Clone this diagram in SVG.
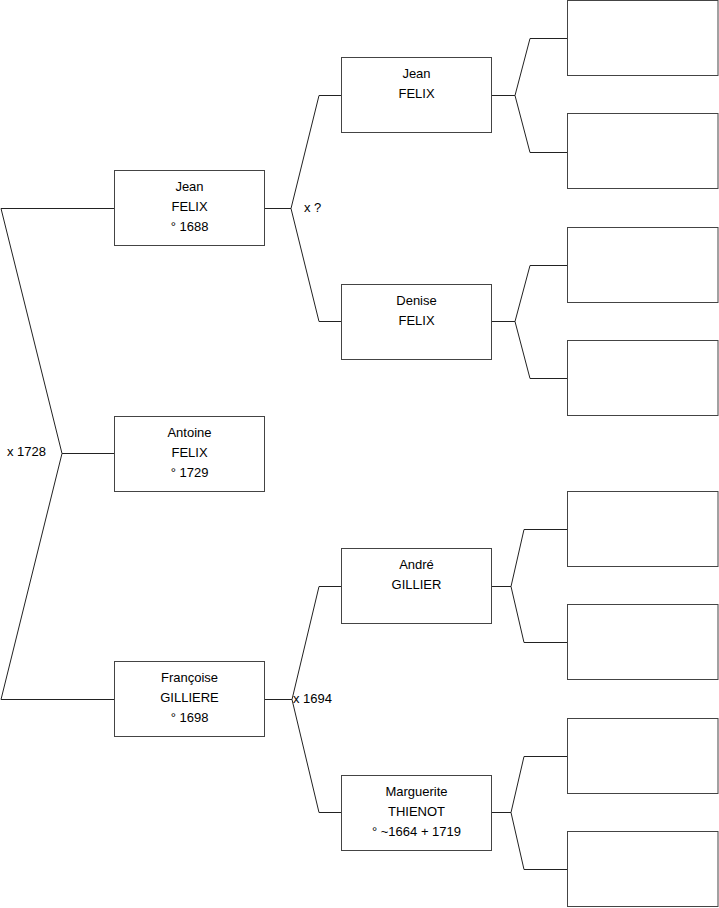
<svg xmlns="http://www.w3.org/2000/svg" width="719" height="908" viewBox="0 0 719 908">
<style>
.box{fill:#fff;stroke:#444;stroke-width:1}
.ln{fill:none;stroke:#222;stroke-width:1}
text{font-family:"Liberation Sans",Arial,sans-serif;font-size:13px;fill:#000}
.c{text-anchor:middle}
</style>
<g id="connectors">
<path class="ln" d="M114,208.5 H1 L62,453.5 L1,699.5 H114 M62,453.5 H114"/>
<path class="ln" d="M265,208.5 H291 L319,95.5 H341 M291,208.5 L319,321.5 H341"/>
<path class="ln" d="M265,699.5 H292 L319,586.5 H341 M292,699.5 L319,812.5 H341"/>
<path class="ln" d="M492,95.5 H515 L530,38.5 H567 M515,95.5 L530,152.5 H567"/>
<path class="ln" d="M492,321.5 H515 L530,265.5 H567 M515,321.5 L530,378.5 H567"/>
<path class="ln" d="M492,586.5 H511 L524,529.5 H567 M511,586.5 L524,642.5 H567"/>
<path class="ln" d="M492,812.5 H511 L524,756.5 H567 M511,812.5 L524,869.5 H567"/>
<text x="7" y="456">x 1728</text>
<text x="304" y="212">x ?</text>
<text x="293" y="703">x 1694</text>
</g>
<g id="jean1688"><rect class="box" x="114.5" y="170.5" width="150" height="75"/><text class="c" x="189.5" y="191">Jean</text><text class="c" x="189.5" y="211">FELIX</text><text class="c" x="189.5" y="231">° 1688</text></g>
<g id="antoine"><rect class="box" x="114.5" y="416.5" width="150" height="75"/><text class="c" x="189.5" y="437">Antoine</text><text class="c" x="189.5" y="457">FELIX</text><text class="c" x="189.5" y="477">° 1729</text></g>
<g id="francoise"><rect class="box" x="114.5" y="661.5" width="150" height="75"/><text class="c" x="189.5" y="682">Françoise</text><text class="c" x="189.5" y="702">GILLIERE</text><text class="c" x="189.5" y="722">° 1698</text></g>
<g id="jean2"><rect class="box" x="341.5" y="57.5" width="150" height="75"/><text class="c" x="416.5" y="78">Jean</text><text class="c" x="416.5" y="98">FELIX</text></g>
<g id="denise"><rect class="box" x="341.5" y="284.5" width="150" height="75"/><text class="c" x="416.5" y="305">Denise</text><text class="c" x="416.5" y="325">FELIX</text></g>
<g id="andre"><rect class="box" x="341.5" y="548.5" width="150" height="75"/><text class="c" x="416.5" y="569">André</text><text class="c" x="416.5" y="589">GILLIER</text></g>
<g id="marguerite"><rect class="box" x="341.5" y="775.5" width="150" height="75"/><text class="c" x="416.5" y="796">Marguerite</text><text class="c" x="416.5" y="816">THIENOT</text><text class="c" x="416.5" y="836">° ~1664 + 1719</text></g>
<g id="g3a"><rect class="box" x="567.5" y="0.5" width="150.5" height="75"/></g>
<g id="g3b"><rect class="box" x="567.5" y="113.5" width="150.5" height="75"/></g>
<g id="g3c"><rect class="box" x="567.5" y="227.5" width="150.5" height="75"/></g>
<g id="g3d"><rect class="box" x="567.5" y="340.5" width="150.5" height="75"/></g>
<g id="g3e"><rect class="box" x="567.5" y="491.5" width="150.5" height="75"/></g>
<g id="g3f"><rect class="box" x="567.5" y="604.5" width="150.5" height="75"/></g>
<g id="g3g"><rect class="box" x="567.5" y="718.5" width="150.5" height="75"/></g>
<g id="g3h"><rect class="box" x="567.5" y="831.5" width="150.5" height="75"/></g>
</svg>
